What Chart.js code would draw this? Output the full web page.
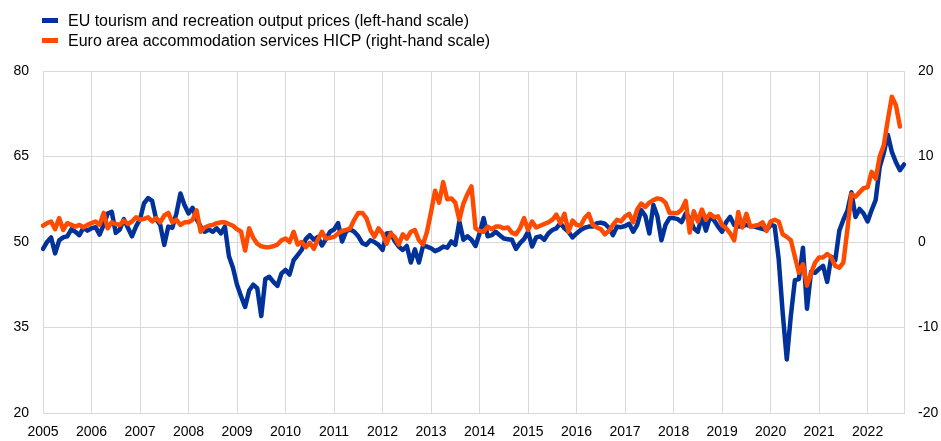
<!DOCTYPE html>
<html>
<head>
<meta charset="utf-8">
<script src="https://cdn.jsdelivr.net/npm/chart.js@4"></script>
<style>
  html, body { margin: 0; padding: 0; background: #fff; }
  #wrap { position: relative; width: 941px; height: 441px; }
  #legend { position: absolute; left: 42px; top: 11px; font: 16px "Liberation Sans", Arial, sans-serif; color: #000; }
  #legend div { height: 20px; line-height: 20px; white-space: nowrap; }
  #legend span { display: inline-block; width: 16px; height: 5px; margin-right: 10px; vertical-align: middle; position: relative; top: -1px; }
</style>
</head>
<body>
<div id="wrap">
  <canvas id="chart"></canvas>
  <div id="legend"></div>
</div>
<script>
// monthly, Jan 2005 - Oct 2022
const firstYear = 2005
const lastYear = 2022
const lastMonth = 10

const seriesNames = [
  'EU tourism and recreation output prices (left-hand scale)',
  'Euro area accommodation services HICP (right-hand scale)'
]
const seriesColors = ['#003299', '#ff4b00']

// EU tourism and recreation output prices (left-hand scale)
const tourismPrices = [
  48.8, 50.0, 50.8, 48.0, 50.3, 50.8, 51.0, 52.2, 51.8, 51.2, 52.5, 52.0,
  52.4, 52.6, 51.3, 53.0, 55.0, 55.3, 51.6, 52.2, 54.0, 52.5, 51.0, 52.7,
  54.0, 56.8, 57.7, 57.2, 54.0, 53.0, 49.5, 52.7, 52.5, 55.0, 58.5, 56.5,
  55.0, 56.0, 54.0, 52.7, 51.8, 52.2, 51.8, 52.4, 51.5, 52.7, 47.5, 45.5,
  42.5, 40.5, 38.6, 41.5, 42.5, 41.9, 37.0, 43.5, 43.9, 43.0, 42.3, 44.5,
  45.1, 44.3, 46.8, 47.7, 48.6, 50.5, 51.2, 50.4, 50.9, 49.4, 50.5, 51.8,
  52.2, 53.3, 50.1, 51.9, 52.2, 51.8, 51.0, 49.8, 49.5, 50.3, 50.0, 49.5,
  48.6, 51.5, 51.6, 50.2, 49.2, 48.6, 49.3, 46.4, 48.7, 46.4, 49.3, 49.2,
  48.9, 48.4, 48.7, 49.2, 49.0, 50.1, 49.5, 53.6, 50.4, 51.0, 50.4, 49.3,
  51.5, 54.2, 51.0, 51.2, 51.8, 51.2, 50.6, 50.5, 50.4, 48.8, 49.8, 50.5,
  51.8, 49.2, 50.8, 51.0, 50.4, 51.5, 52.1, 52.4, 53.3, 52.4, 51.8, 50.8,
  51.5, 52.1, 52.5, 52.7, 52.7, 53.3, 53.4, 53.2, 52.5, 51.2, 52.7, 52.6,
  52.8, 53.2, 51.8, 53.0, 55.6, 54.6, 51.5, 56.5, 54.5, 50.3, 53.0, 54.2,
  54.2, 54.0, 53.5, 55.0, 54.2, 52.4, 51.8, 54.5, 52.0, 54.4, 53.8, 52.7,
  51.8, 53.5, 54.4, 53.0, 52.7, 52.8, 53.0, 52.8, 52.7, 52.5, 52.3, 52.1,
  53.0, 52.8, 47.0, 37.5, 29.4, 37.0, 43.3, 43.5, 49.0, 38.3, 44.8, 44.6,
  45.3, 45.8, 43.0, 47.4, 46.8, 52.0, 53.9, 55.5, 58.7, 54.4, 55.8, 55.0,
  53.6, 55.6, 57.4, 63.2, 65.6, 68.8, 65.8, 64.0, 62.6, 63.6
]

// Euro area accommodation services HICP (right-hand scale)
const accommodationHicp = [
  1.9, 2.2, 2.4, 1.5, 2.8, 1.4, 2.2, 2.0, 1.8, 2.0, 1.7, 2.0,
  2.2, 2.4, 2.0, 3.4, 1.6, 2.3, 2.1, 2.0, 2.5, 2.1, 2.4, 2.9,
  2.6, 2.7, 2.9, 2.4, 2.8, 2.3, 3.1, 3.4, 2.3, 2.6, 2.0, 2.3,
  2.3, 2.6, 3.7, 1.2, 1.7, 1.9, 2.0, 2.2, 2.3, 2.3, 2.1, 1.9,
  1.5, 1.2, -1.0, 1.6, 0.5, -0.2, -0.5, -0.6, -0.6, -0.5, -0.3, 0.2,
  0.4, 0.0, 1.2, -0.3, 0.0, -0.6, -0.1, -0.8, 0.3, 1.2, 0.4, 0.5,
  0.6, 1.0, 1.3, 1.4, 1.6, 2.6, 3.4, 3.4, 2.8, 1.4, 0.6, 1.6,
  1.0, -0.2, 1.0, 0.6, -0.3, 0.9, 0.4, 1.2, 1.4, 0.2, -0.3, 1.2,
  3.5, 6.0, 4.6, 7.0, 5.0, 5.1, 4.6, 2.6, 4.5, 5.6, 6.5, 1.6,
  1.3, 1.2, 1.8, 1.5, 1.8, 1.8, 1.6, 1.7, 1.1, 0.9, 1.6, 2.8,
  1.4, 2.4, 1.7, 1.9, 2.1, 2.3, 2.6, 3.2, 2.2, 3.3, 1.2, 2.5,
  2.0, 1.9, 2.8, 3.3, 2.0, 1.7, 1.5, 0.9, 1.3, 2.0, 2.6, 2.4,
  3.0, 3.3, 2.3, 3.8, 4.5, 4.1, 4.6, 4.9, 5.1, 5.0, 4.6, 3.4,
  3.4, 3.4, 3.8, 4.8, 1.1, 3.6, 2.4, 3.8, 2.6, 3.3, 2.9, 3.0,
  2.0, 1.6, 1.0, 0.2, 3.5, 1.7, 3.3, 1.8, 1.9, 2.0, 2.3, 1.3,
  2.4, 2.6, 2.4, 0.9, 0.6, 0.2, -1.7, -3.6, -2.6, -5.1, -3.7, -2.4,
  -1.8, -1.8, -1.4, -1.8, -2.8, -3.0, -2.4, 1.5, 5.6, 5.3, 5.8, 6.3,
  6.4, 8.2, 7.4, 10.0, 11.3, 14.3, 17.0, 16.0, 13.5, null
]

const leftTicks = [20, 35, 50, 65, 80]
const rightTicks = [-20, -10, 0, 10, 20]

const months = []
for (let y = firstYear; y <= lastYear; y++) {
  for (let m = 1; m <= 12; m++) {
    if (y === lastYear && m > lastMonth) break
    months.push(y + '-' + String(m).padStart(2, '0'))
  }
}

const gridColor = '#d9d9d9'
const tickFont = { family: 'Liberation Sans, Arial, sans-serif', size: 14 }

// html legend, stacked like the original
const legendEl = document.getElementById('legend')
seriesNames.forEach((name, i) => {
  const row = document.createElement('div')
  const box = document.createElement('span')
  box.style.background = seriesColors[i]
  row.appendChild(box)
  row.appendChild(document.createTextNode(name))
  legendEl.appendChild(row)
})

new Chart(document.getElementById('chart'), {
  type: 'line',
  data: {
    labels: months,
    datasets: [
      {
        label: seriesNames[1],
        data: accommodationHicp,
        yAxisID: 'y1',
        borderColor: seriesColors[1],
        borderWidth: 4.5,
        pointRadius: 0,
        tension: 0,
        borderJoinStyle: 'round',
        borderCapStyle: 'round'
      },
      {
        label: seriesNames[0],
        data: tourismPrices,
        yAxisID: 'y',
        borderColor: seriesColors[0],
        borderWidth: 4.5,
        pointRadius: 0,
        tension: 0,
        borderJoinStyle: 'round',
        borderCapStyle: 'round'
      }
    ]
  },
  options: {
    responsive: true,
    maintainAspectRatio: false,
    animation: false,
    layout: { padding: { top: 71, left: 0, right: 0, bottom: 0 } },
    plugins: {
      legend: { display: false },
      tooltip: { enabled: false }
    },
    scales: {
      x: {
        type: 'category',
        offset: false,
        grid: {
          color: (ctx) => (ctx.index % 12 === 0 ? gridColor : 'rgba(0,0,0,0)'),
          drawTicks: false
        },
        border: { color: gridColor },
        ticks: {
          autoSkip: false,
          maxRotation: 0,
          minRotation: 0,
          padding: 11,
          color: '#000',
          font: tickFont,
          callback: (val, i) => (i % 12 === 0 ? months[i].slice(0, 4) : '')
        },
        afterFit: (scale) => { scale.height = 28 }
      },
      y: {
        position: 'left',
        min: 20,
        max: 80,
        grid: { color: gridColor, drawTicks: false },
        border: { color: gridColor },
        afterBuildTicks: (scale) => { scale.ticks = leftTicks.map(v => ({ value: v })) },
        ticks: { padding: 14, color: '#000', font: tickFont },
        afterFit: (scale) => { scale.width = 43 }
      },
      y1: {
        position: 'right',
        min: -20,
        max: 20,
        grid: { drawOnChartArea: false, drawTicks: false },
        border: { color: gridColor },
        afterBuildTicks: (scale) => { scale.ticks = rightTicks.map(v => ({ value: v })) },
        ticks: { padding: 14, color: '#000', font: tickFont },
        afterFit: (scale) => { scale.width = 37 }
      }
    }
  }
})
</script>
</body>
</html>
